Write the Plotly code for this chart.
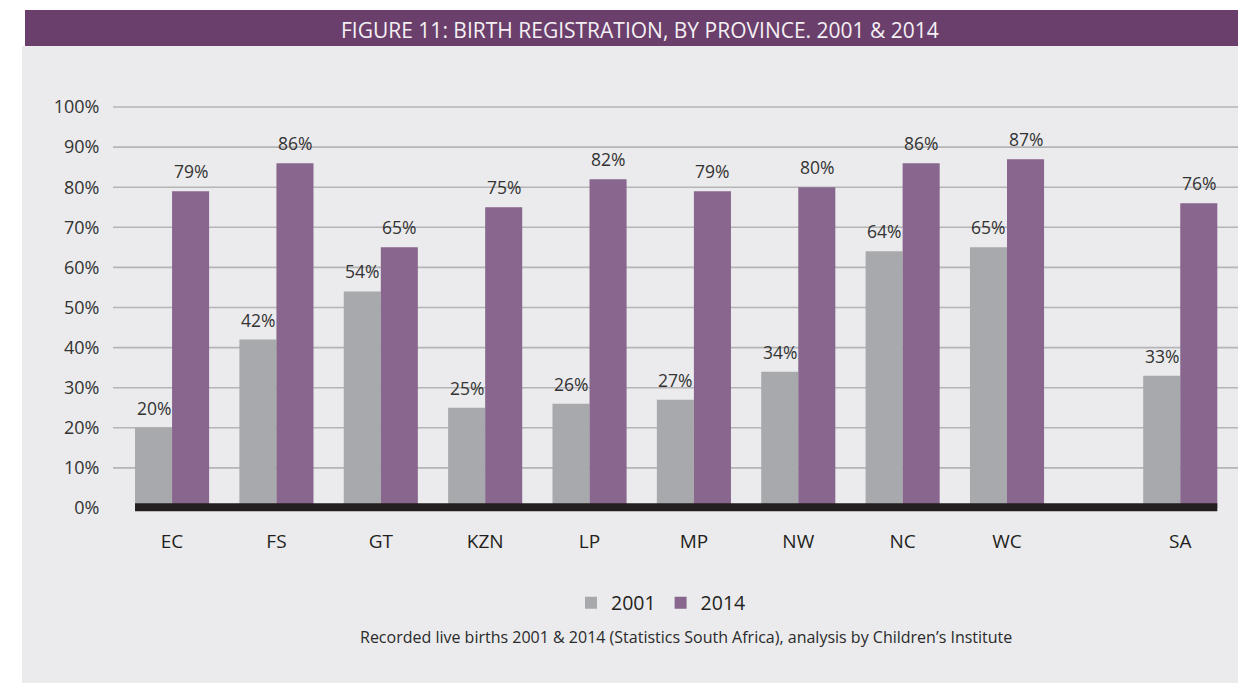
import plotly.graph_objects as go

# ---- data ----
provinces = ["EC", "FS", "GT", "KZN", "LP", "MP", "NW", "NC", "WC", "SA"]
x_pos = [0, 1, 2, 3, 4, 5, 6, 7, 8, 9.66]
reg_2001 = [20, 42, 54, 25, 26, 27, 34, 64, 65, 33]
reg_2014 = [79, 86, 65, 75, 82, 79, 80, 86, 87, 76]
y_ticks = [0, 10, 20, 30, 40, 50, 60, 70, 80, 90, 100]
y_tick_text = [f"{v}%" for v in y_ticks]

# ---- styles ----
GRAY = "#a8a9ac"
PURPLE = "#88668d"
BANNER = "#6a3f6b"
PANEL = "#ebebed"
DARK = "#231f20"
FONT = "Open Sans"

# plot area in page pixels (page has an 8px body margin)
PL, PR, PT, PB = 113, 1246, 105, 516
PW, PH = PR - PL, PB - PT


def px(x):
    return (x - PL) / PW


def py(y):
    return (PB - y) / PH


fig = go.Figure()
fig.add_trace(go.Bar(x=x_pos, y=reg_2001, name="2001", marker_color=GRAY,
                     marker_line_width=0))
fig.add_trace(go.Bar(x=x_pos, y=reg_2014, name="2014", marker_color=PURPLE,
                     marker_line_width=0))

BARGAP = 0.29
half_bar = (1 - BARGAP) / 4

shapes = []
shapes.append(dict(type="rect", xref="paper", yref="paper", layer="below",
                   x0=px(22), x1=1.02, y0=py(700), y1=py(46),
                   line_width=0, fillcolor=PANEL))
shapes.append(dict(type="rect", xref="paper", yref="paper", layer="below",
                   x0=px(25), x1=1.02, y0=py(46), y1=py(10),
                   line_width=0, fillcolor=BANNER))
for v in y_ticks[1:]:
    shapes.append(dict(type="line", xref="paper", yref="y", layer="below",
                       x0=0, x1=1.02, y0=v, y1=v,
                       line=dict(color="#b5b5b7", width=1.6)))
shapes.append(dict(type="rect", xref="x", yref="y", layer="above",
                   x0=x_pos[0] - 2 * half_bar, x1=x_pos[-1] + 2 * half_bar,
                   y0=-0.8, y1=1.2, line_width=0, fillcolor=DARK))

annotations = []
for xp, a, b in zip(x_pos, reg_2001, reg_2014):
    for val, sgn in ((a, -1), (b, 1)):
        annotations.append(dict(x=xp + sgn * half_bar, y=val, xref="x", yref="y",
                                text=f"{val}%", showarrow=False, yanchor="middle",
                                yshift=20,
                                font=dict(family=FONT, size=17.5, color="#333333")))
annotations.append(dict(xref="paper", yref="paper", x=px(640), y=py(30),
                        text="FIGURE 11: BIRTH REGISTRATION, BY PROVINCE. 2001 &amp; 2014",
                        showarrow=False, xanchor="center", yanchor="middle",
                        font=dict(family=FONT, size=21, color="#f4f0f4")))
annotations.append(dict(xref="paper", yref="paper", x=px(686), y=py(637),
                        text="Recorded live births 2001 &amp; 2014 (Statistics South Africa), analysis by Children’s Institute",
                        showarrow=False, xanchor="center", yanchor="middle",
                        font=dict(family=FONT, size=16, color="#2a2a2a")))

fig.update_layout(
    width=1246, height=683,
    margin=dict(l=PL - 8, r=1246 - (PR - 8), t=PT - 8, b=683 - (PB - 8)),
    paper_bgcolor="white", plot_bgcolor="rgba(0,0,0,0)",
    barmode="group", bargap=BARGAP, bargroupgap=0,
    showlegend=True,
    legend=dict(orientation="h", x=px(661), xanchor="center",
                y=py(603), yanchor="middle",
                font=dict(family=FONT, size=19.5, color=DARK),
                bgcolor="rgba(0,0,0,0)", traceorder="normal"),
    shapes=shapes, annotations=annotations,
    xaxis=dict(range=[-0.566, 10.29], tickvals=x_pos, ticktext=provinces,
               showgrid=False, zeroline=False, showline=False,
               ticks="outside", ticklen=8, tickcolor="rgba(0,0,0,0)",
               tickfont=dict(family=FONT, size=19, color=DARK)),
    yaxis=dict(range=[-2, 100.5], tickvals=y_ticks, ticktext=y_tick_text,
               showgrid=False, zeroline=False, showline=False,
               ticks="outside", ticklen=9, tickcolor="rgba(0,0,0,0)",
               tickfont=dict(family=FONT, size=18, color="#333333")),
)

fig.write_html("out.html")
